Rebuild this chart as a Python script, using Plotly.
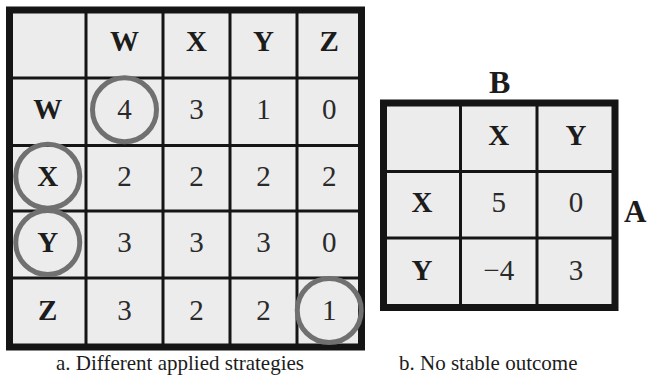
import plotly.graph_objects as go

# ---- data ----
left_col_labels = ["W", "X", "Y", "Z"]
left_row_labels = ["W", "X", "Y", "Z"]
left_values = [
    [4, 3, 1, 0],
    [2, 2, 2, 2],
    [3, 3, 3, 0],
    [3, 2, 2, 1],
]
# circled cells as (row, col) on the full grid (0 = header row / column)
left_circled = [(1, 1), (2, 0), (3, 0), (4, 4)]

right_col_labels = ["X", "Y"]
right_row_labels = ["X", "Y"]
right_values = [
    [5, 0],
    [-4, 3],
]
right_top_label = "B"
right_side_label = "A"
caption_a = "a. Different applied strategies"
caption_b = "b. No stable outcome"

# ---- geometry (pixel-space layout) ----
W, H = 647, 381
L_x = [9.5, 86, 163, 230, 297, 361.5]
L_y = [10, 78, 145.5, 211, 278, 347]
R_x = [383.5, 460.5, 537, 615]
R_y = [103, 171.5, 238, 307.5]

FONT = "Liberation Serif"
LINE = "#151515"
CELL = "#ececec"
RING = "#707070"
TXT = "#1c1c1c"


def fmt(v):
    return ("\u2212" + str(-v)) if v < 0 else str(v)


def centers(edges):
    return [(edges[i] + edges[i + 1]) / 2 for i in range(len(edges) - 1)]


fig = go.Figure()
shapes = []


def add_table(xe, ye, col_labels, row_labels, values):
    xc, yc = centers(xe), centers(ye)
    shapes.append(dict(type="rect", xref="x", yref="y", x0=xe[0], x1=xe[-1],
                       y0=ye[0], y1=ye[-1], fillcolor=CELL, line=dict(width=0),
                       layer="below"))
    for x in xe[1:-1]:
        shapes.append(dict(type="line", xref="x", yref="y", x0=x, x1=x,
                           y0=ye[0], y1=ye[-1], line=dict(color=LINE, width=3)))
    for y in ye[1:-1]:
        shapes.append(dict(type="line", xref="x", yref="y", x0=xe[0], x1=xe[-1],
                           y0=y, y1=y, line=dict(color=LINE, width=3)))
    shapes.append(dict(type="rect", xref="x", yref="y", x0=xe[0], x1=xe[-1],
                       y0=ye[0], y1=ye[-1], line=dict(color=LINE, width=7)))
    hx = [xc[i + 1] for i in range(len(col_labels))] + [xc[0]] * len(row_labels)
    hy = [yc[0]] * len(col_labels) + [yc[j + 1] for j in range(len(row_labels))]
    ht = [f"<b>{c}</b>" for c in col_labels] + [f"<b>{r}</b>" for r in row_labels]
    fig.add_trace(go.Scatter(x=hx, y=hy, text=ht, mode="text",
                             textfont=dict(family=FONT, size=29, color=TXT),
                             hoverinfo="skip", showlegend=False))
    vx, vy, vt = [], [], []
    for r, row in enumerate(values):
        for c, v in enumerate(row):
            vx.append(xc[c + 1])
            vy.append(yc[r + 1])
            vt.append(fmt(v))
    fig.add_trace(go.Scatter(x=vx, y=vy, text=vt, mode="text",
                             textfont=dict(family=FONT, size=29, color="#2a2a2a"),
                             hoverinfo="skip", showlegend=False))
    return xc, yc


lxc, lyc = add_table(L_x, L_y, left_col_labels, left_row_labels, left_values)
rxc, ryc = add_table(R_x, R_y, right_col_labels, right_row_labels, right_values)

ring_r = 32
for (r, c) in left_circled:
    cx, cy = lxc[c], lyc[r] - 2
    shapes.append(dict(type="circle", xref="x", yref="y",
                       x0=cx - ring_r, x1=cx + ring_r, y0=cy - ring_r, y1=cy + ring_r,
                       line=dict(color=RING, width=5)))

annotations = [
    dict(x=(R_x[0] + R_x[-1]) / 2, y=82, text=f"<b>{right_top_label}</b>",
         showarrow=False, font=dict(family=FONT, size=32, color=TXT),
         xref="x", yref="y"),
    dict(x=635, y=211, text=f"<b>{right_side_label}</b>",
         showarrow=False, font=dict(family=FONT, size=31, color=TXT),
         xref="x", yref="y"),
    dict(x=180, y=363, text=caption_a, showarrow=False,
         font=dict(family=FONT, size=21, color=TXT), xref="x", yref="y"),
    dict(x=488, y=363, text=caption_b, showarrow=False,
         font=dict(family=FONT, size=21, color=TXT), xref="x", yref="y"),
]

fig.update_layout(
    width=W, height=H,
    margin=dict(l=0, r=0, t=0, b=0),
    paper_bgcolor="white", plot_bgcolor="white",
    xaxis=dict(range=[0, W], visible=False, fixedrange=True),
    yaxis=dict(range=[H, 0], visible=False, fixedrange=True),
    shapes=shapes, annotations=annotations,
)

fig.write_html("out.html", config={"displayModeBar": False},
               post_script="document.body.style.margin='0';document.body.style.overflow='hidden';")
